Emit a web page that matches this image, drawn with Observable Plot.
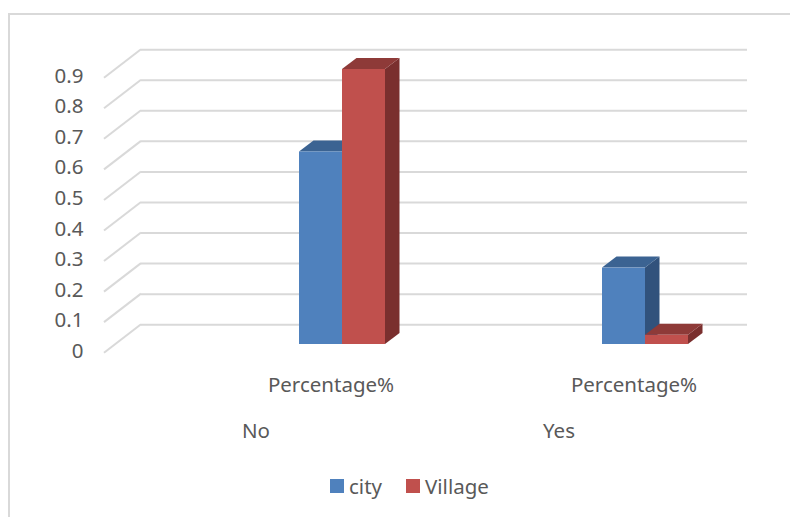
<!DOCTYPE html>
<html>
<head>
<meta charset="utf-8">
<script src="https://cdn.jsdelivr.net/npm/d3@7"></script>
<script src="https://cdn.jsdelivr.net/npm/@observablehq/plot@0.6"></script>
<style>
  html, body { margin: 0; background: #fff; }
  #chart { position: relative; width: 790px; height: 517px; overflow: hidden; font-family: "Noto Sans", sans-serif; }
  #edge { position: absolute; left: 8px; top: 13px; right: 0; bottom: 0; border-top: 2px solid #d9d9d9; border-left: 2px solid #d9d9d9; }
  #chart svg { position: relative; display: block; }
  #key { position: absolute; left: 330px; top: 469px; }
  #key span { margin-right: 24px !important; }
  #key svg { margin-right: 5px !important; }
</style>
</head>
<body>
<div id="chart"><div id="edge"></div></div>
<script>
const groups = ["No", "Yes"];
const series = ["city", "Village"];
const cityValues = [0.63, 0.25];
const villageValues = [0.9, 0.03];
const yTicks = [0, 0.1, 0.2, 0.3, 0.4, 0.5, 0.6, 0.7, 0.8, 0.9];
const tierLabel = "Percentage%";
const frontColors = ["#4f81bd", "#c0504d"];
const topColors = ["#3b6392", "#8e3a38"];
const sideColors = ["#31527c", "#7a2f2e"];

const rows = groups.flatMap((group, i) => [
  {group, series: series[0], value: cityValues[i]},
  {group, series: series[1], value: villageValues[i]}
]);

// Oblique offset of the back wall, and of the column depth.
const wall = {dx: 37, dy: -28.5};
const depth = {dx: 14.5, dy: -11};
const ink = "#595959";
const gridColor = "#d9d9d9";
const gridWidth = 2;
const labelSize = 20.5;

// Adds the top and side faces behind each front rectangle of a column.
function extrude(index, scales, values, dimensions, context, next) {
  const g = next(index, scales, values, dimensions, context);
  const ns = "http://www.w3.org/2000/svg";
  const rects = Array.from(g.querySelectorAll("rect"));
  rects.forEach((rect, k) => {
    const x = +rect.getAttribute("x"), y = +rect.getAttribute("y");
    const w = +rect.getAttribute("width"), h = +rect.getAttribute("height");
    const s = series.indexOf(rows[index[k]].series);
    const faces = [
      [sideColors[s], `M${x + w},${y}l${depth.dx},${depth.dy}v${h}l${-depth.dx},${-depth.dy}z`],
      [topColors[s], `M${x},${y}l${depth.dx},${depth.dy}h${w}l${-depth.dx},${-depth.dy}z`]
    ];
    for (const [fill, d] of faces) {
      const p = document.createElementNS(ns, "path");
      p.setAttribute("d", d);
      p.setAttribute("fill", fill);
      rect.parentNode.insertBefore(p, rect);
    }
  });
  return g;
}

// Slanted floor-to-wall strokes at the left end of each grid line.
function slants(index, scales, values, dimensions) {
  const g = document.createElementNS("http://www.w3.org/2000/svg", "g");
  for (const i of index) {
    const p = document.createElementNS("http://www.w3.org/2000/svg", "path");
    p.setAttribute("d", `M${dimensions.marginLeft},${values.y[i]}l${wall.dx},${wall.dy}`);
    p.setAttribute("stroke", gridColor);
    p.setAttribute("stroke-width", gridWidth);
    p.setAttribute("fill", "none");
    g.appendChild(p);
  }
  return g;
}

const chart = Plot.plot({
  width: 790,
  height: 470,
  marginLeft: 104,
  marginRight: 80,
  marginTop: 60,
  marginBottom: 117,
  style: {fontFamily: '"Noto Sans", sans-serif', fontSize: labelSize + "px", color: ink, background: "transparent"},
  fx: {domain: groups, padding: 0, label: null, axis: null},
  x: {domain: series, range: [298.5, 385.2], padding: 0, axis: null},
  y: {domain: [0, 0.9], range: [352.7, 77.7], axis: null},
  marks: [
    Plot.ruleY(yTicks, {y: d => d, stroke: gridColor, strokeWidth: gridWidth, dx: wall.dx, dy: wall.dy}),
    Plot.ruleY(yTicks, {y: d => d, fx: () => groups[0], render: slants}),
    Plot.axisY(yTicks, {
      anchor: "left", tickSize: 0, tickPadding: 21, dy: -2, label: null,
      tickFormat: d => String(d), fill: ink, fontSize: labelSize
    }),
    Plot.barY(rows, {
      fx: "group", x: "series", y: "value", dy: -8.7,
      fill: d => frontColors[series.indexOf(d.series)],
      render: extrude
    }),
    Plot.text(groups, {
      fx: d => d, x: () => series[0], y: () => 0, text: () => tierLabel,
      dx: 10, dy: 32, fill: ink, fontSize: labelSize
    }),
    Plot.axisFx({
      anchor: "bottom", tickSize: 0, tickPadding: 70, label: null, fill: ink, fontSize: labelSize
    })
  ]
});
document.getElementById("chart").appendChild(chart);

const key = Plot.legend({
  color: {type: "ordinal", domain: series, range: frontColors},
  swatchSize: 14,
  style: {fontFamily: '"Noto Sans", sans-serif', fontSize: labelSize + "px", color: ink}
});
key.id = "key";
document.getElementById("chart").appendChild(key);
</script>
</body>
</html>
